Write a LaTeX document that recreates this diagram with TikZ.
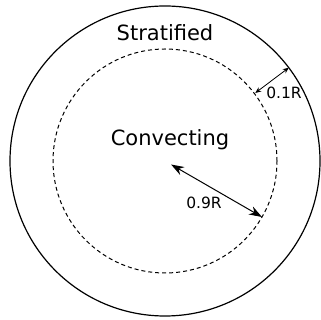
\documentclass[tikz,border=0pt]{standalone}
\usepackage{fontspec}
\setmainfont{DejaVu Sans}
\usetikzlibrary{arrows.meta,calc}
\tikzset{
 shell/.style={line width=1.2pt},
 core/.style={line width=1pt,dash pattern=on 4pt off 3pt},
 bigdim/.style={line width=1pt,{Stealth[length=13pt,width=9pt]}-{Stealth[length=13pt,width=9pt]}},
 smalldim/.style={line width=0.8pt,{Stealth[length=6pt,width=5pt]}-{Stealth[length=6pt,width=5pt]}},
 zonelabel/.style={inner sep=0,font=\fontsize{21}{25}\selectfont},
 dimlabel/.style={inner sep=0,font=\fontsize{15.5}{18}\selectfont}
}
\begin{document}
\begin{tikzpicture}[x=1pt,y=1pt]
\path[use as bounding box] (0,0) rectangle (320,320);
\coordinate (ctr) at (165,159);
\draw[shell] (ctr) circle[radius=155];
\draw[core] (ctr) circle[radius=112];
\coordinate (bigA) at ($(ctr)+(-30:7)$);
\coordinate (bigB) at ($(ctr)+(-30:112)$);
\coordinate (smallA) at ($(ctr)+(37:113)$);
\coordinate (smallB) at ($(ctr)+(37:155)$);
\draw[bigdim] (bigA) -- (bigB);
\draw[smalldim] (smallA) -- (smallB);
\node[zonelabel] (strat) at (165,287) {Stratified};
\node[zonelabel] (conv) at (170,180) {Convecting};
\node[dimlabel] (nine) at (204,117) {0.9R};
\node[dimlabel] (one) at (284,227) {0.1R};
\end{tikzpicture}
\end{document}
